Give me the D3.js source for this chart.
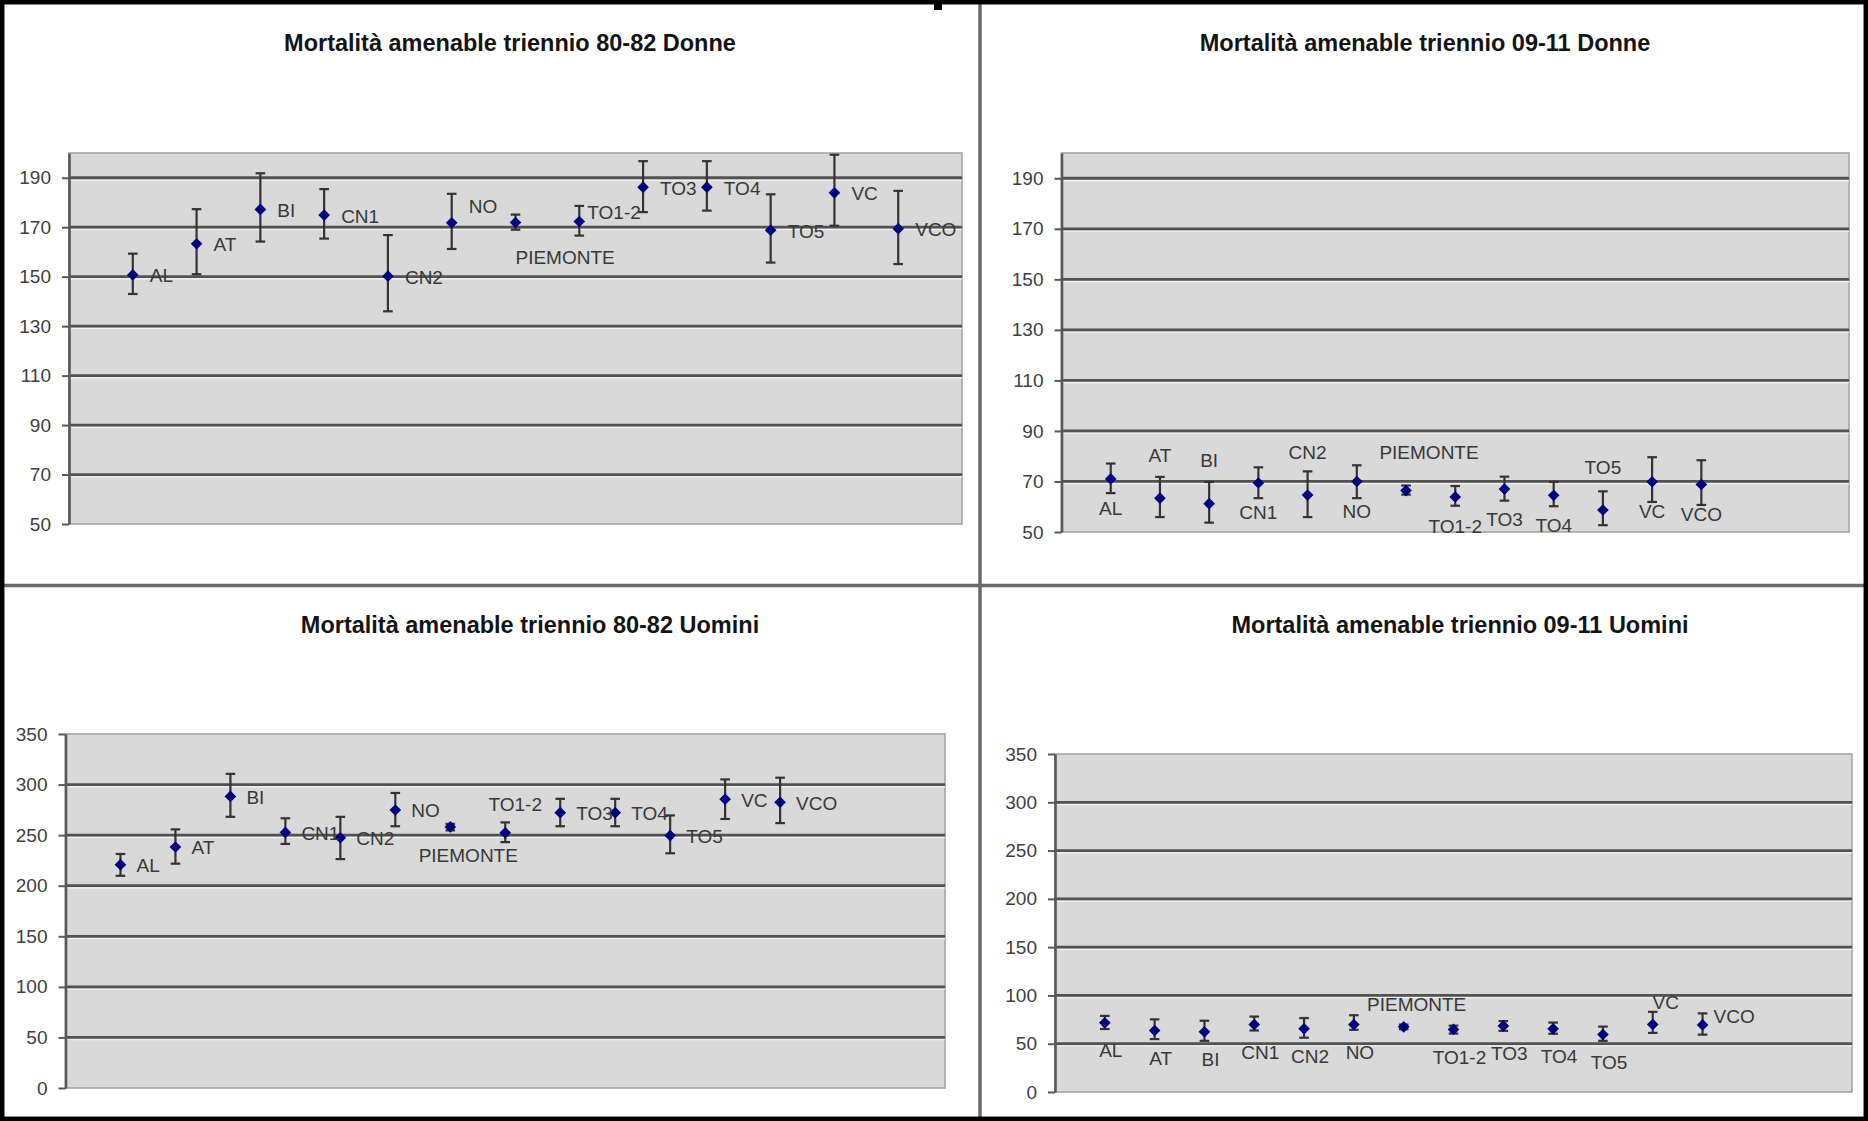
<!DOCTYPE html>
<html><head><meta charset="utf-8">
<script src="https://cdn.jsdelivr.net/npm/d3@7"></script>
<style>html,body{margin:0;padding:0;background:#fff;} svg{display:block;}</style>
</head><body>
<svg id="c" width="1868" height="1121"></svg>
<script>
// ---------------- DATA ----------------
const categories = ['AL','AT','BI','CN1','CN2','NO','PIEMONTE','TO1-2','TO3','TO4','TO5','VC','VCO'];
const titles = [
  'Mortalità amenable triennio 80-82 Donne',
  'Mortalità amenable triennio 09-11 Donne',
  'Mortalità amenable triennio 80-82 Uomini',
  'Mortalità amenable triennio 09-11 Uomini'
];

const donne8082Rate  = [150.7, 163.3, 177.2, 174.9, 150.2, 171.8, 171.9, 172.3, 186.2, 186.2, 168.8, 183.9, 169.4];
const donne8082Lower = [143.0, 151.0, 164.2, 165.4, 136.0, 161.2, 169.0, 166.6, 176.1, 176.7, 155.7, 170.6, 155.1];
const donne8082Upper = [159.3, 177.3, 191.8, 185.4, 166.8, 183.5, 175.1, 178.6, 196.7, 196.7, 183.3, 199.3, 184.7];

const donne0911Rate  = [71.0, 63.4, 61.2, 69.4, 64.6, 70.0, 66.4, 63.9, 67.0, 64.5, 58.7, 69.9, 68.8];
const donne0911Lower = [65.4, 55.9, 53.7, 63.4, 55.9, 63.4, 64.8, 60.4, 62.4, 60.2, 52.7, 61.9, 60.7];
const donne0911Upper = [77.1, 71.8, 69.8, 75.6, 74.0, 76.4, 68.4, 68.2, 71.9, 69.8, 66.1, 79.6, 78.4];

const uomini8082Rate  = [220.8, 238.3, 288.3, 252.7, 247.5, 274.9, 258.1, 252.3, 272.2, 272.2, 249.6, 285.6, 282.5];
const uomini8082Lower = [209.8, 221.8, 268.1, 241.3, 226.3, 258.8, 254.7, 243.1, 258.8, 258.8, 232.1, 266.0, 261.9];
const uomini8082Upper = [231.4, 255.7, 310.6, 266.7, 268.1, 291.7, 261.2, 262.6, 285.9, 285.9, 269.5, 305.1, 306.8];

const uomini0911Rate  = [71.6, 63.7, 62.3, 69.8, 65.5, 69.8, 67.5, 64.8, 68.4, 65.4, 59.5, 70.0, 69.5];
const uomini0911Lower = [65.2, 54.8, 53.0, 63.7, 56.2, 64.4, 65.0, 60.5, 63.3, 60.3, 53.0, 61.2, 59.4];
const uomini0911Upper = [78.8, 75.2, 73.8, 78.1, 76.6, 79.5, 69.8, 68.7, 73.4, 71.9, 67.7, 83.0, 81.4];

const yTicksDonne  = [50, 70, 90, 110, 130, 150, 170, 190];
const yDomainDonne = [50, 200];
const yTicksUomini  = [0, 50, 100, 150, 200, 250, 300, 350];
const yDomainUomini = [0, 350];

// label placement keywords (resolved per panel below)
const labelPosDonne8082  = ['r','r','r','r','r','ar','bs','rt','r','r','r','r','r'];
const labelPosDonne0911  = ['b','a','a','b','a','b','ap','b','b','b','a','b','b'];
const labelPosUomini8082 = ['r','r','r','r','r','r','b','a','r','r','r','r','r'];
const labelPosUomini0911 = ['b','b','b','b','b','b','a','b','b','b','b','a','ar'];

// ---------------- LAYOUT ----------------
const panels = [
  { title: titles[0], rate: donne8082Rate, lower: donne8082Lower, upper: donne8082Upper,
    yDomain: yDomainDonne, yTicks: yTicksDonne, xMax: 14,
    rect: {x: 69, y: 153, w: 893, h: 371}, titleX: 510, titleY: 43,
    labelPos: labelPosDonne8082,
    place: { r: [17, 1, 'start'], rt: [8, -9, 'start'], ar: [17, -16, 'start'], bs: [0, 35, 'start'] } },
  { title: titles[1], rate: donne0911Rate, lower: donne0911Lower, upper: donne0911Upper,
    yDomain: yDomainDonne, yTicks: yTicksDonne, xMax: 16,
    rect: {x: 1061.5, y: 153, w: 787.5, h: 379}, titleX: 1425, titleY: 43,
    labelPos: labelPosDonne0911,
    place: { a: [0, -43, 'middle'], b: [0, 30, 'middle'], ap: [23, -38, 'middle'] } },
  { title: titles[2], rate: uomini8082Rate, lower: uomini8082Lower, upper: uomini8082Upper,
    yDomain: yDomainUomini, yTicks: yTicksUomini, xMax: 16,
    rect: {x: 65.5, y: 734, w: 879.5, h: 354}, titleX: 530, titleY: 625,
    labelPos: labelPosUomini8082,
    place: { r: [16, 1, 'start'], a: [10, -28, 'middle'], b: [18, 29, 'middle'] } },
  { title: titles[3], rate: uomini0911Rate, lower: uomini0911Lower, upper: uomini0911Upper,
    yDomain: yDomainUomini, yTicks: yTicksUomini, xMax: 16,
    rect: {x: 1055, y: 754, w: 797, h: 338}, titleX: 1460, titleY: 625,
    labelPos: labelPosUomini0911,
    place: { b: [6, 28, 'middle'], a: [13, -22, 'middle'], ar: [11, -8, 'start'] } }
];

const FONT = "'Liberation Sans', Arial, Helvetica, sans-serif";
const svg = d3.select('#c');
svg.append('rect').attr('x', 0).attr('y', 0).attr('width', 1868).attr('height', 1121).attr('fill', '#fff');

panels.forEach(p => {
  const r = p.rect;
  const g = svg.append('g');
  const x = d3.scaleLinear().domain([0, p.xMax]).range([r.x, r.x + r.w]);
  const y = d3.scaleLinear().domain(p.yDomain).range([r.y + r.h, r.y]);

  // plot area
  g.append('rect').attr('x', r.x).attr('y', r.y).attr('width', r.w).attr('height', r.h)
    .attr('fill', '#d9d9d9').attr('stroke', '#a6a6a6').attr('stroke-width', 1.6);

  // gridlines
  const grid = p.yTicks.filter(t => t > p.yDomain[0] && t < p.yDomain[1]);
  g.selectAll('.gh').data(grid).join('line')
    .attr('x1', r.x).attr('x2', r.x + r.w)
    .attr('y1', d => y(d) + 2.3).attr('y2', d => y(d) + 2.3)
    .attr('stroke', '#f4f4f4').attr('stroke-width', 1.2);
  g.selectAll('.gl').data(grid).join('line')
    .attr('x1', r.x).attr('x2', r.x + r.w)
    .attr('y1', d => y(d)).attr('y2', d => y(d))
    .attr('stroke', '#525252').attr('stroke-width', 2.8);

  // y axis
  const ax = g.append('g').attr('transform', `translate(${r.x},0)`)
    .call(d3.axisLeft(y).tickValues(p.yTicks).tickSize(7).tickSizeOuter(0).tickPadding(11).tickFormat(d3.format('d')));
  ax.select('.domain').attr('stroke', '#595959').attr('stroke-width', 2.6);
  ax.selectAll('.tick line').attr('stroke', '#595959').attr('stroke-width', 2);
  ax.selectAll('.tick text').attr('fill', '#404040').attr('font-size', 19).attr('font-family', FONT);

  // error bars
  const idx = categories.map((c, i) => i);
  g.selectAll('.eb').data(idx).join('line')
    .attr('x1', i => x(i + 1)).attr('x2', i => x(i + 1))
    .attr('y1', i => y(p.lower[i])).attr('y2', i => y(p.upper[i]))
    .attr('stroke', '#333').attr('stroke-width', 2.2);
  ['lower', 'upper'].forEach(k => {
    g.selectAll('.cap' + k).data(idx).join('line')
      .attr('x1', i => x(i + 1) - 4.8).attr('x2', i => x(i + 1) + 4.8)
      .attr('y1', i => y(p[k][i])).attr('y2', i => y(p[k][i]))
      .attr('stroke', '#333').attr('stroke-width', 2.2);
  });

  // markers (diamonds)
  const sym = d3.symbol(d3.symbolSquare, 68)();
  g.selectAll('.mk').data(idx).join('path')
    .attr('d', sym)
    .attr('transform', i => `translate(${x(i + 1)},${y(p.rate[i])}) rotate(45)`)
    .attr('fill', '#00007f');

  // data labels
  g.selectAll('.lb').data(idx).join('text')
    .attr('x', i => x(i + 1) + p.place[p.labelPos[i]][0])
    .attr('y', i => y(p.rate[i]) + p.place[p.labelPos[i]][1])
    .attr('text-anchor', i => p.place[p.labelPos[i]][2])
    .attr('dominant-baseline', 'central')
    .attr('font-family', FONT).attr('font-size', 19).attr('fill', '#383838')
    .text(i => categories[i]);

  // title
  g.append('text').attr('x', p.titleX).attr('y', p.titleY)
    .attr('text-anchor', 'middle').attr('dominant-baseline', 'central')
    .attr('font-family', FONT).attr('font-size', 23.5).attr('font-weight', 'bold').attr('fill', '#141414')
    .text(p.title);
});

// dividers
svg.append('line').attr('x1', 980).attr('x2', 980).attr('y1', 0).attr('y2', 1121)
  .attr('stroke', '#6a6a6a').attr('stroke-width', 3.5);
svg.append('line').attr('x1', 0).attr('x2', 1868).attr('y1', 585.5).attr('y2', 585.5)
  .attr('stroke', '#6a6a6a').attr('stroke-width', 3.5);

// outer frame
svg.append('rect').attr('x', 2.2).attr('y', 2.2).attr('width', 1863.6).attr('height', 1116.6)
  .attr('fill', 'none').attr('stroke', '#000').attr('stroke-width', 4.5);
svg.append('rect').attr('x', 934).attr('y', 3).attr('width', 8).attr('height', 7).attr('fill', '#000');
</script>
</body></html>
